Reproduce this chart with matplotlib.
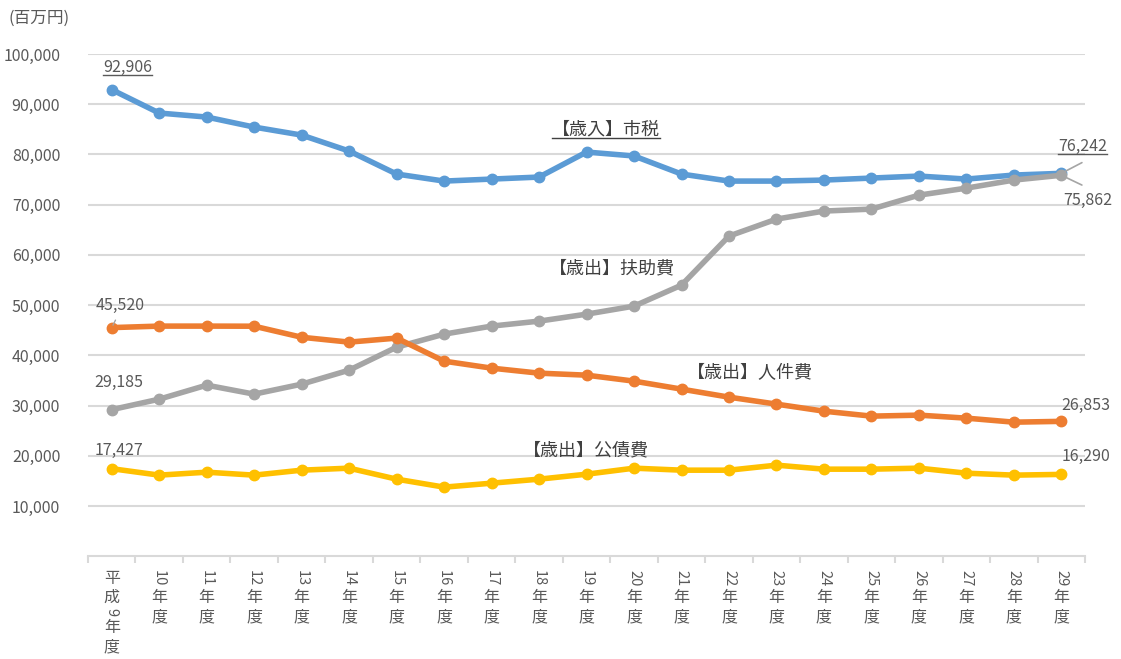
import numpy as np
import matplotlib
matplotlib.use('Agg')
import matplotlib.pyplot as plt
from matplotlib.lines import Line2D

plt.rcParams['font.family'] = ['Noto Sans CJK JP', 'DejaVu Sans']

# 年度 (平成9年度 ～ 29年度)
nendo = list(range(9, 30))

# 単位: 百万円
shizei = [92906, 88250, 87450, 85450, 83860, 80680, 76100, 74700, 75100, 75500,
          80480, 79700, 76100, 74700, 74700, 74900, 75300, 75700, 75100, 75900, 76242]
fujohi = [29185, 31270, 34060, 32270, 34260, 37050, 41630, 44220, 45820, 46810,
          48200, 49800, 53980, 63750, 67130, 68730, 69120, 71900, 73300, 74900, 75862]
jinkenhi = [45520, 45820, 45820, 45800, 43600, 42630, 43430, 38840, 37450, 36450,
            36050, 34860, 33270, 31670, 30280, 28880, 27890, 28090, 27490, 26690, 26853]
kosaihi = [17427, 16140, 16730, 16140, 17130, 17530, 15340, 13750, 14540, 15340,
           16330, 17530, 17130, 17130, 18130, 17330, 17330, 17530, 16530, 16140, 16290]

series = [
    ('【歳入】市税', shizei, '#5B9BD5'),
    ('【歳出】扶助費', fujohi, '#A5A5A5'),
    ('【歳出】人件費', jinkenhi, '#ED7D31'),
    ('【歳出】公債費', kosaihi, '#FFC000'),
]

txt_col = '#595959'

fig = plt.figure(figsize=(11.21, 6.59), dpi=100)
ax = fig.add_axes([0.0785, 0.156, 0.8895, 0.762])

x = np.arange(len(nendo))
for name, vals, col in series:
    ax.plot(x, vals, color=col, lw=4, marker='o', markersize=7.5, zorder=3)

ax.set_xlim(-0.5, len(nendo) - 0.5)
ax.set_ylim(0, 100000)
ax.set_yticks(np.arange(10000, 100001, 10000))
ax.set_yticklabels(['{:,}'.format(v) for v in range(10000, 100001, 10000)],
                   color=txt_col, fontsize=11.5)
ax.grid(axis='y', color='#D9D9D9', lw=1.5)
ax.set_axisbelow(True)
ax.tick_params(axis='y', length=0, pad=20)
for s in ['top', 'right', 'left']:
    ax.spines[s].set_visible(False)
ax.spines['bottom'].set_color('#D9D9D9')
ax.spines['bottom'].set_linewidth(1.5)

# x軸: 区切りの目盛り
ax.set_xticks(np.arange(-0.5, len(nendo), 1.0))
ax.set_xticklabels([])
ax.tick_params(axis='x', length=5, color='#D9D9D9', width=1.5, direction='out')

# 縦書きのラベル
for i, n in enumerate(nendo):
    if n == 9:
        parts = ['平', '成', '9', '年', '度']
    else:
        parts = [str(n), '年', '度']
    yoff = -14
    for p in parts:
        if p.isdigit():
            ax.annotate(p, xy=(i, 0), xycoords=('data', 'axes fraction'),
                        xytext=(0, yoff), textcoords='offset pixels',
                        rotation=-90, ha='center', va='top',
                        fontsize=10.5, color=txt_col)
            yoff -= 8 * len(p) + 3
        else:
            ax.annotate(p, xy=(i, 0), xycoords=('data', 'axes fraction'),
                        xytext=(0, yoff), textcoords='offset pixels',
                        ha='center', va='top', fontsize=11.5, color=txt_col)
            yoff -= 19

fig.text(0.008, 0.972, '(百万円)', fontsize=12, color=txt_col, va='center')

underlined = []

def vlabel(txt, i, v, dx, dy, ha='center', ul=False):
    t = ax.annotate(txt, xy=(i, v), xytext=(dx, dy), textcoords='offset pixels',
                    ha=ha, va='center', fontsize=11.5, color=txt_col)
    if ul:
        underlined.append(t)
    return t

last = len(nendo) - 1
vlabel('{:,}'.format(shizei[0]), 0, shizei[0], 16, 22, ul=True)
vlabel('{:,}'.format(jinkenhi[0]), 0, jinkenhi[0], 8, 22)
ax.annotate('', xy=(0, jinkenhi[0]), xytext=(5, 10), textcoords='offset pixels',
            arrowprops=dict(arrowstyle='-', color='#A5A5A5', lw=1))
vlabel('{:,}'.format(fujohi[0]), 0, fujohi[0], 7, 27)
vlabel('{:,}'.format(kosaihi[0]), 0, kosaihi[0], 7, 18)

vlabel('{:,}'.format(shizei[last]), last, shizei[last], 21, 27, ul=True)
ax.annotate('', xy=(last, shizei[last]), xytext=(23, 12), textcoords='offset pixels',
            arrowprops=dict(arrowstyle='-', color='#A5A5A5', lw=1.2))
vlabel('{:,}'.format(fujohi[last]), last, fujohi[last], 26, -25)
ax.annotate('', xy=(last, fujohi[last]), xytext=(23, -11), textcoords='offset pixels',
            arrowprops=dict(arrowstyle='-', color='#A5A5A5', lw=1.2))
vlabel('{:,}'.format(jinkenhi[last]), last, jinkenhi[last], 24, 16)
vlabel('{:,}'.format(kosaihi[last]), last, kosaihi[last], 25, 18)

# 系列名
name_pos = [(10.41, 84900), (10.54, 57400), (13.45, 36450), (9.99, 21100)]
for (name, vals, col), (px, py) in zip(series, name_pos):
    t = ax.text(px, py, name, ha='center', va='center', fontsize=13, color='#404040')
    if name == '【歳入】市税':
        underlined.append(t)

fig.canvas.draw()
r = fig.canvas.get_renderer()
inv = fig.transFigure.inverted()
for t in underlined:
    bb = t.get_window_extent(r)
    (x0, y0), (x1, y1) = inv.transform([(bb.x0, bb.y0 + 1), (bb.x1, bb.y0 + 1)])
    fig.add_artist(Line2D([x0, x1], [y0, y1], color=t.get_color(), lw=1,
                          transform=fig.transFigure))

fig.savefig('out.png', dpi=100)
